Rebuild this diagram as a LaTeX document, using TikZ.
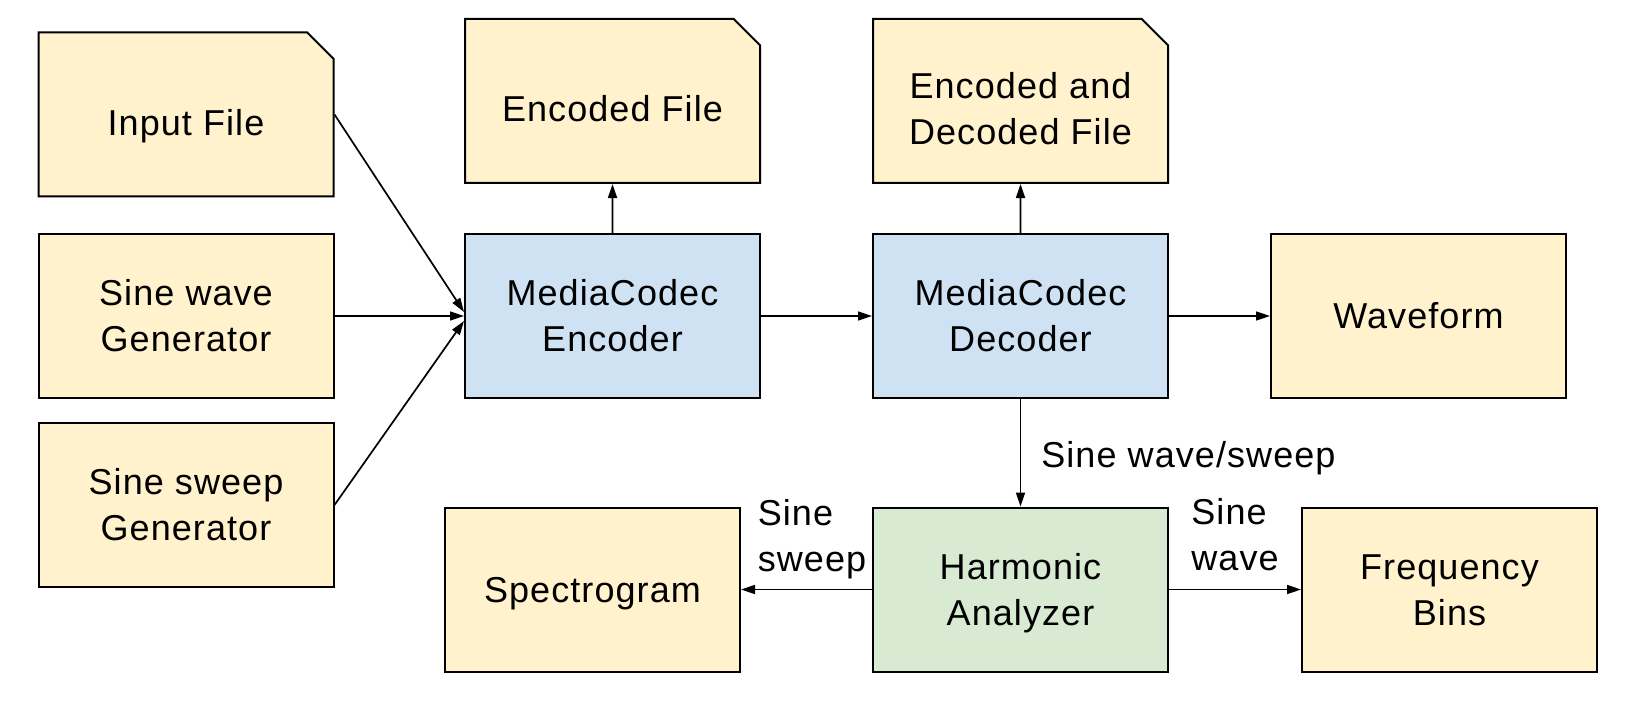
\documentclass[tikz,border=0pt]{standalone}
\usepackage{fontspec}
\setmainfont{Liberation Sans}[LetterSpace=3.0]
\usepackage{tikz}
\usetikzlibrary{arrows.meta}
\usetikzlibrary{shapes.misc}

\definecolor{fileyellow}{HTML}{FFF2CC}
\definecolor{codecblue}{HTML}{CFE2F3}
\definecolor{analyzergreen}{HTML}{D9EAD3}

\tikzset{
  blk/.style={draw, line width=1pt, minimum width=147.5pt, minimum height=82pt, inner sep=0pt, align=center, font=\fontsize{18}{23}\selectfont, text height=12.9pt, text depth=0pt},
  tall/.style={text height=35.9pt},
  outbox/.style={blk, fill=fileyellow},
  filebox/.style={outbox, chamfered rectangle, chamfered rectangle corners=north east, chamfered rectangle xsep=6.3pt, chamfered rectangle ysep=6.8pt, text height=21pt},
  codec/.style={blk, fill=codecblue, tall},
  flow/.style={line width=0.85pt, -{Triangle[length=7pt,width=4.5pt]}},
  lbl/.style={font=\fontsize{18}{23}\selectfont, align=left, inner sep=0pt}
}

\begin{document}
\begin{tikzpicture}[x=0.5pt,y=-0.5pt]
        \useasboundingbox (0,0) rectangle (1642,716);
        \node[filebox] (infile) at (186,114.5) {Input File};
        \node[outbox, tall] (sinegen) at (186,316) {Sine wave\\Generator};
        \node[outbox, tall] (sweepgen) at (186,505) {Sine sweep\\Generator};
        \node[filebox] (encfile) at (612.5,101) {Encoded File};
        \node[codec] (enc) at (612.5,316) {MediaCodec\\Encoder};
        \node[filebox, text height=44pt] (decfile) at (1020.5,101) {Encoded and\\Decoded File};
        \node[codec] (dec) at (1020.5,316) {MediaCodec\\Decoder};
        \node[outbox] (wave) at (1418.5,316) {Waveform};
        \node[outbox] (spec) at (592.5,589.5) {Spectrogram};
        \node[blk, tall, fill=analyzergreen] (harm) at (1020.5,589.5) {Harmonic\\Analyzer};
        \node[outbox, tall] (bins) at (1449.5,589.5) {Frequency\\Bins};
        \draw[flow] (infile.east) -- ([yshift=2pt]enc.west);
        \draw[flow] (sinegen) -- (enc);
        \draw[flow] (sweepgen.east) -- ([yshift=-2.5pt]enc.west);
        \draw[flow] (enc) -- (encfile);
        \draw[flow] (enc) -- (dec);
        \draw[flow] (dec) -- (decfile);
        \draw[flow] (dec) -- (wave);
        \draw[flow] (dec) -- node[lbl, right=10pt, yshift=-2.5pt] {Sine wave/sweep} (harm);
        \draw[flow] (harm) -- node[lbl, above=5pt, xshift=2.75pt] {Sine\\sweep} (spec);
        \draw[flow] (harm) -- node[lbl, above=9pt] {Sine\\wave} (bins);
\end{tikzpicture}
\end{document}
